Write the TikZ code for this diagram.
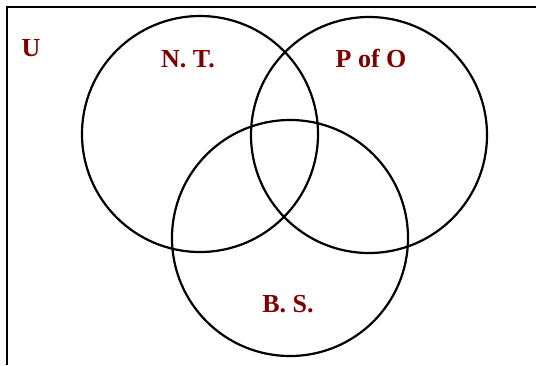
\documentclass[tikz,border=0pt]{standalone}
\usepackage{fontspec}
\setmainfont{Liberation Serif}
\definecolor{setred}{RGB}{128,0,0}

\begin{document}
\begin{tikzpicture}[x=1pt,y=-1pt,line width=2.2pt,
  setlabel/.style={anchor=base,inner sep=0,text=setred,font=\fontsize{26}{31}\selectfont\bfseries}]
\useasboundingbox (0,0) rectangle (536,365);
% universe frame, cut off at right and bottom
\draw[line width=2.4pt] (7,365) -- (7,7) -- (536,7);
\node[setlabel] (U) at (31,56) {U};
% the three sets
\coordinate (nt) at (200,134);
\coordinate (po) at (369,135);
\coordinate (bs) at (290,238);
\draw (nt) circle (118pt);
\draw (po) circle (118pt);
\draw (bs) circle (118pt);
\node[setlabel] (NT) at (188,67) {N. T.};
\node[setlabel] (PO) at (371,67) {P of O};
\node[setlabel] (BS) at (288,312) {B. S.};
\end{tikzpicture}
\end{document}
